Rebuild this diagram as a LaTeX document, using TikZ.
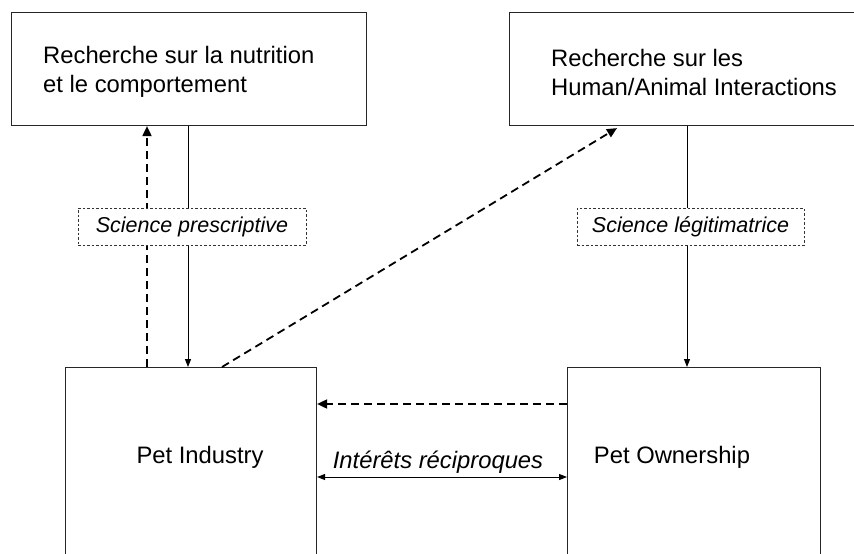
\documentclass[tikz,border=0pt]{standalone}
\usepackage{fontspec}
\setmainfont{Liberation Sans}
\usetikzlibrary{arrows.meta}
\begin{document}
\begin{tikzpicture}[x=1pt,y=-1pt,
  boxnode/.style={draw=black!85,line width=1.1pt,rectangle,inner sep=0pt,anchor=north west},
  maintext/.style={inner sep=0pt,align=left,font=\fontsize{23.8}{29}\selectfont},
  tagbox/.style={draw=black!80,dashed,dash pattern=on 2.5pt off 2pt,line width=0.8pt,fill=white,
    inner sep=0pt,minimum height=37pt,font=\fontsize{21.5}{25}\selectfont\itshape},
  solidarrow/.style={line width=1pt,-{Triangle[length=8pt,width=6pt]}},
  dasharrow/.style={line width=1.8pt,dash pattern=on 8pt off 5pt,-{Triangle[length=10pt,width=9pt]}},
  bothways/.style={line width=1pt,{Triangle[length=8pt,width=6pt]}-{Triangle[length=8pt,width=6pt]}}
]
\useasboundingbox (0,0) rectangle (854,554);
\clip (0,0) rectangle (854,554);
\fill[white] (0,0) rectangle (854,554);

% boxes
\node[boxnode,minimum width=355pt,minimum height=113pt] (tl) at (11,12) {};
\node[boxnode,minimum width=400pt,minimum height=113pt] (tr) at (509,12) {};
\node[boxnode,minimum width=251pt,minimum height=260pt] (pi) at (65,367) {};
\node[boxnode,minimum width=253pt,minimum height=260pt] (po) at (567,367) {};

% box texts
\node[maintext,anchor=west] (tltext) at (43,72) {Recherche sur la nutrition\\et le comportement};
\node[maintext,anchor=west] (trtext) at (551,72) {Recherche sur les\\Human/Animal Interactions};
\node[maintext,anchor=base] (pitext) at (200,463) {Pet Industry};
\node[maintext,anchor=base] (potext) at (672,463) {Pet Ownership};

% connectors
\draw[solidarrow] ([xshift=177pt]tl.south west) -- ([xshift=123pt]pi.north west);
\draw[dasharrow] ([xshift=82pt]pi.north west) -- ([xshift=136pt]tl.south west);
\draw[dasharrow] ([xshift=157pt]pi.north west) -- ([xshift=108pt,yshift=-2pt]tr.south west);
\draw[solidarrow] ([xshift=178pt]tr.south west) -- ([xshift=120pt]po.north west);
\draw[dasharrow] ([yshift=-37pt]po.north west) -- ([yshift=-37pt]pi.north east);
\draw[bothways] ([yshift=-110pt]pi.north east) -- ([yshift=-110pt]po.north west);

% tags
\node[tagbox,minimum width=228pt] (sp) at (192,226.5) {Science prescriptive};
\node[tagbox,minimum width=227pt] (sl) at (690.5,226.5) {Science légitimatrice};
\node[inner sep=0pt,anchor=base,font=\fontsize{23.8}{29}\selectfont\itshape] (ir) at (438,468) {Intérêts réciproques};
\end{tikzpicture}
\end{document}
